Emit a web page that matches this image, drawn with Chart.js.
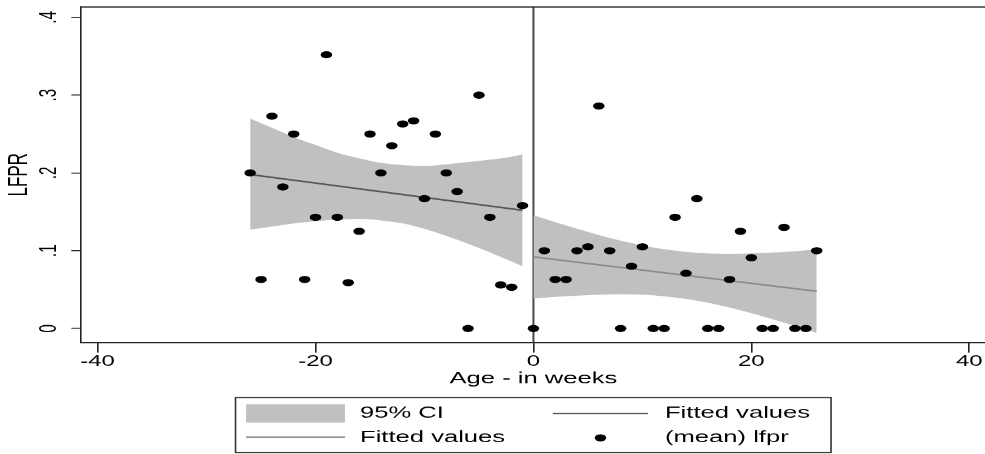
<!DOCTYPE html>
<html>
<head>
<meta charset="utf-8">
<script src="https://cdn.jsdelivr.net/npm/chart.js@4.4.1/dist/chart.umd.min.js"></script>
<style>
html,body{margin:0;padding:0;background:#fff;overflow:hidden;}
canvas{display:block;}
</style>
</head>
<body>
<canvas id="c" width="616" height="454" style="width:985px;height:454px"></canvas>
<script>
// ---- data ----
const weeks = [-26,-25,-24,-23,-22,-21,-20,-19,-18,-17,-16,-15,-14,-13,-12,-11,-10,-9,-8,-7,-6,-5,-4,-3,-2,-1,
               0,1,2,3,4,5,6,7,8,9,10,11,12,13,14,15,16,17,18,19,20,21,22,23,24,25,26];
const lfprMeans = [0.200,0.063,0.273,0.182,0.250,0.063,0.143,0.352,0.143,0.059,0.125,0.250,0.200,0.235,0.263,0.267,0.167,0.250,0.200,0.176,0.000,0.300,0.143,0.056,0.053,0.158,
                   0.000,0.100,0.063,0.063,0.100,0.105,0.286,0.100,0.000,0.080,0.105,0.000,0.000,0.143,0.071,0.167,0.000,0.000,0.063,0.125,0.091,0.000,0.000,0.130,0.000,0.000,0.100];

const leftFitWeeks = [-26, -1];
const leftFitValues = [0.198, 0.152];
const rightFitWeeks = [0, 26];
const rightFitValues = [0.0921, 0.0479];

const leftBandWeeks = [-26,-24,-22,-20,-18,-16,-14,-12,-10,-8,-6,-4,-2,-1];
const leftBandUpper = [0.270,0.258,0.246,0.236,0.226,0.219,0.213,0.210,0.209,0.211,0.214,0.217,0.221,0.224];
const leftBandLower = [0.127,0.131,0.135,0.138,0.140,0.141,0.139,0.135,0.128,0.119,0.109,0.098,0.086,0.080];

const rightBandWeeks = [0,2,4,6,8,10,12,14,16,18,20,22,24,26];
const rightBandUpper = [0.1457,0.1368,0.1283,0.1203,0.1130,0.1068,0.1019,0.0985,0.0966,0.0960,0.0965,0.0977,0.0994,0.1015];
const rightBandLower = [0.0385,0.0406,0.0423,0.0435,0.0440,0.0434,0.0415,0.0381,0.0332,0.0270,0.0197,0.0117,0.0032,-0.0057];

const cutoffWeek = 0;
const xTicks = [-40,-20,0,20,40];
const xTickLabels = ['-40','-20','0','20','40'];
const yTicks = [0,0.1,0.2,0.3,0.4];
const yTickLabels = ['0','.1','.2','.3','.4'];

// ---- styles ----
const FAMILY = '"Liberation Sans", Arial, Helvetica, sans-serif';
const BAND = '#c0c0c0';
const FIT1 = '#555555';
const FIT2 = '#8a8a8a';
const AXIS = '#222222';

const pts = (xs, ys) => xs.map((x, i) => ({x: x, y: ys[i]}));

const framePlugin = {
  id: 'frameAndLegend',
  beforeDatasetsDraw(chart) {
    const {ctx, chartArea, scales} = chart;
    const px = scales.x.getPixelForValue(cutoffWeek);
    ctx.save();
    ctx.strokeStyle = '#4a4a4a';
    ctx.lineWidth = 1.25;
    ctx.beginPath();
    ctx.moveTo(px, chartArea.top);
    ctx.lineTo(px, chartArea.bottom);
    ctx.stroke();
    ctx.restore();
  },
  afterDraw(chart) {
    const {ctx, chartArea} = chart;
    const ds = chart.data.datasets;
    ctx.save();
    // top frame line
    ctx.strokeStyle = AXIS;
    ctx.lineWidth = 1.3;
    ctx.beginPath();
    ctx.moveTo(chartArea.left, chartArea.top);
    ctx.lineTo(chartArea.right, chartArea.top);
    ctx.stroke();

    // legend box
    const L = {left: 147.2, top: 397.3, right: 519.4, bottom: 452.3};
    ctx.strokeStyle = '#333';
    ctx.lineWidth = 1;
    ctx.strokeRect(L.left, L.top, L.right - L.left, L.bottom - L.top);

    ctx.font = '16px ' + FAMILY;
    ctx.fillStyle = '#000';
    ctx.textBaseline = 'middle';
    ctx.textAlign = 'left';
    const r1 = 413.2, r2 = 437.6;
    const c1sym = 153.8, c1symEnd = 215.6, c1txt = 225;
    const c2sym = 345.6, c2symEnd = 405, c2txt = 415.6;

    // row 1: CI swatch
    ctx.fillStyle = ds[3].backgroundColor;
    ctx.fillRect(c1sym, 404, c1symEnd - c1sym, 18.3);
    ctx.fillStyle = '#000';
    ctx.fillText(ds[3].label, c1txt, r1);
    // row 1 col 2: first fit
    ctx.strokeStyle = ds[1].borderColor;
    ctx.lineWidth = 1.5;
    ctx.beginPath(); ctx.moveTo(c2sym, r1); ctx.lineTo(c2symEnd, r1); ctx.stroke();
    ctx.fillText(ds[1].label, c2txt, r1);
    // row 2 col 1: second fit
    ctx.strokeStyle = ds[2].borderColor;
    ctx.beginPath(); ctx.moveTo(c1sym, r2 - 0.8); ctx.lineTo(c1symEnd, r2 - 0.8); ctx.stroke();
    ctx.fillText(ds[2].label, c1txt, r2);
    // row 2 col 2: marker
    ctx.fillStyle = ds[0].backgroundColor;
    ctx.beginPath(); ctx.arc((c2sym + c2symEnd) / 2, r2, ds[0].pointRadius, 0, Math.PI * 2); ctx.fill();
    ctx.fillStyle = '#000';
    ctx.fillText(ds[0].label, c2txt, r2);
    ctx.restore();
  }
};

Chart.defaults.font.family = FAMILY;

new Chart(document.getElementById('c'), {
  type: 'scatter',
  data: {
    datasets: [
      {type: 'scatter', label: '(mean) lfpr', data: pts(weeks, lfprMeans),
       backgroundColor: '#000', borderColor: '#000', pointRadius: 3.6, pointBorderWidth: 0, order: 0},
      {type: 'line', label: 'Fitted values', data: pts(leftFitWeeks, leftFitValues),
       borderColor: FIT1, borderWidth: 1.5, pointRadius: 0, fill: false, order: 1},
      {type: 'line', label: 'Fitted values', data: pts(rightFitWeeks, rightFitValues),
       borderColor: FIT2, borderWidth: 1.5, pointRadius: 0, fill: false, order: 1},
      {type: 'line', label: '95% CI', data: pts(leftBandWeeks, leftBandUpper),
       borderColor: 'rgba(0,0,0,0)', borderWidth: 0, backgroundColor: BAND, fill: '+1',
       pointRadius: 0, cubicInterpolationMode: 'monotone', order: 2},
      {type: 'line', label: '95% CI lower', data: pts(leftBandWeeks, leftBandLower),
       borderColor: 'rgba(0,0,0,0)', borderWidth: 0, pointRadius: 0, fill: false,
       cubicInterpolationMode: 'monotone', order: 2},
      {type: 'line', label: '95% CI', data: pts(rightBandWeeks, rightBandUpper),
       borderColor: 'rgba(0,0,0,0)', borderWidth: 0, backgroundColor: BAND, fill: '+1',
       pointRadius: 0, cubicInterpolationMode: 'monotone', order: 2},
      {type: 'line', label: '95% CI lower', data: pts(rightBandWeeks, rightBandLower),
       borderColor: 'rgba(0,0,0,0)', borderWidth: 0, pointRadius: 0, fill: false,
       cubicInterpolationMode: 'monotone', order: 2}
    ]
  },
  options: {
    responsive: false,
    animation: false,
    devicePixelRatio: 1.6,
    events: [],
    layout: {autoPadding: false, padding: {top: 7, left: 0, right: 0, bottom: 0}},
    plugins: {legend: {display: false}, tooltip: {enabled: false}},
    scales: {
      x: {
        type: 'linear', min: -41.5, max: 41.5,
        afterBuildTicks: s => { s.ticks = xTicks.map(v => ({value: v})); },
        afterFit: s => { s.height = 111.7; s.paddingLeft = 0; s.paddingRight = 0; },
        ticks: {font: {size: 15}, color: '#000', padding: 0, maxRotation: 0, autoSkip: false,
                callback: v => xTickLabels[xTicks.indexOf(v)]},
        grid: {display: true, drawOnChartArea: false, drawTicks: true, tickLength: 10, color: AXIS, lineWidth: 1},
        border: {display: true, color: AXIS, width: 1.3},
        title: {display: true, text: 'Age - in weeks', color: '#000', font: {size: 16},
                padding: {top: 0, bottom: 65.6}}
      },
      y: {
        type: 'linear', min: -0.018, max: 0.4133,
        afterBuildTicks: s => { s.ticks = yTicks.map(v => ({value: v})); },
        afterFit: s => { s.width = 50.8; s.paddingTop = 0; s.paddingBottom = 0; },
        ticks: {font: {size: 15}, color: '#000', minRotation: 90, maxRotation: 90, crossAlign: 'center',
                padding: 7.7, autoSkip: false,
                callback: v => yTickLabels[yTicks.indexOf(v)]},
        grid: {display: true, drawOnChartArea: false, drawTicks: true, tickLength: 6.25, color: AXIS, lineWidth: 1},
        border: {display: true, color: AXIS, width: 1},
        title: {display: true, text: 'LFPR', color: '#000', font: {size: 17}, padding: {top: 2, bottom: 0}}
      }
    }
  },
  plugins: [framePlugin]
});
</script>
</body>
</html>
